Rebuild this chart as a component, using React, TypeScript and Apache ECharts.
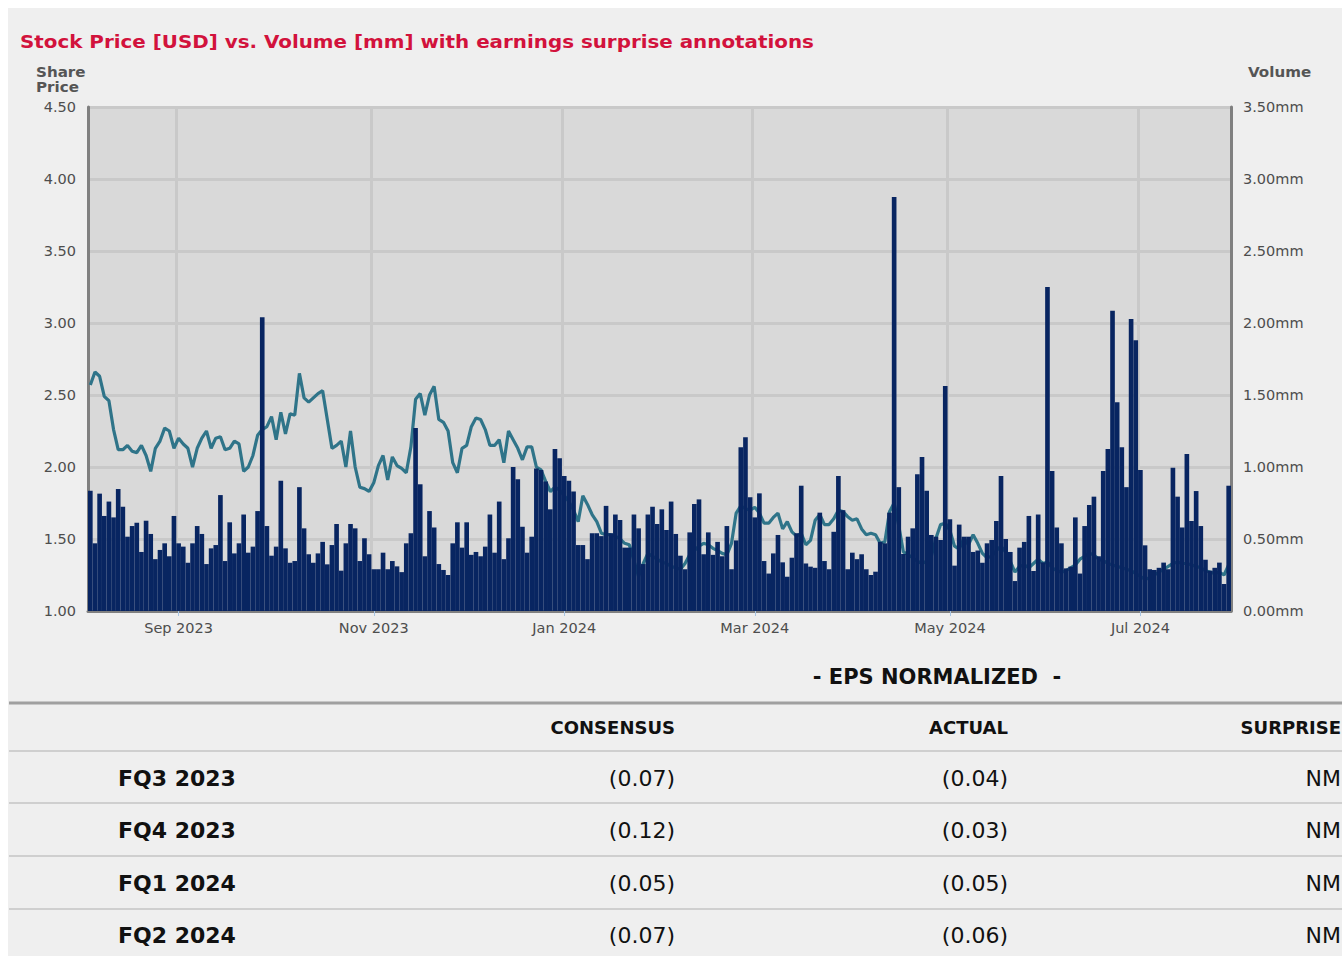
import React, { useEffect, useRef } from "react";
import * as echarts from "echarts";

// ---- categories (trading days) ----
const START_DATE = "2023-08-07";
const END_DATE = "2024-07-29";
const HOLIDAYS = [
  "2023-09-04", "2023-11-23", "2023-12-25", "2024-01-01", "2024-01-15",
  "2024-02-19", "2024-03-29", "2024-05-27", "2024-06-19", "2024-07-04",
];
const MONTHS = ["Jan", "Feb", "Mar", "Apr", "May", "Jun", "Jul", "Aug", "Sep", "Oct", "Nov", "Dec"];

// ---- series values ----
const PRICE = [
  2.57, 2.66, 2.63, 2.49, 2.46, 2.26, 2.12, 2.12, 2.15, 2.11,
  2.10, 2.15, 2.08, 1.97, 2.13, 2.18, 2.27, 2.25, 2.13, 2.20,
  2.16, 2.13, 2.00, 2.13, 2.20, 2.25, 2.13, 2.20, 2.21, 2.12,
  2.13, 2.18, 2.16, 1.97, 2.00, 2.08, 2.22, 2.26, 2.28, 2.35,
  2.19, 2.38, 2.23, 2.37, 2.36, 2.65, 2.48, 2.45, 2.48, 2.51,
  2.53, 2.33, 2.13, 2.15, 2.18, 2.00, 2.25, 2.00, 1.86, 1.85,
  1.83, 1.89, 2.01, 2.08, 1.91, 2.07, 2.01, 1.99, 1.96, 2.14,
  2.47, 2.51, 2.36, 2.50, 2.56, 2.33, 2.31, 2.25, 2.03, 1.96,
  2.13, 2.15, 2.28, 2.34, 2.33, 2.26, 2.15, 2.15, 2.19, 2.03,
  2.25, 2.19, 2.13, 2.05, 2.14, 2.14, 2.00, 1.98, 1.90, 1.83,
  1.86, 1.84, 1.80, 1.76, 1.70, 1.62, 1.80, 1.74, 1.67, 1.62,
  1.54, 1.53, 1.53, 1.52, 1.50, 1.47, 1.46, 1.35, 1.24, 1.33,
  1.40, 1.38, 1.36, 1.34, 1.33, 1.31, 1.30, 1.29, 1.33, 1.39,
  1.42, 1.45, 1.47, 1.46, 1.435, 1.42, 1.40, 1.39, 1.47, 1.68,
  1.73, 1.71, 1.70, 1.72, 1.68, 1.61, 1.61, 1.65, 1.68, 1.57,
  1.62, 1.55, 1.52, 1.54, 1.46, 1.49, 1.63, 1.67, 1.60, 1.60,
  1.64, 1.70, 1.69, 1.655, 1.63, 1.64, 1.57, 1.53, 1.54, 1.53,
  1.47, 1.48, 1.69, 1.75, 1.59, 1.41, 1.39, 1.37, 1.345, 1.33,
  1.345, 1.38, 1.505, 1.60, 1.61, 1.56, 1.45, 1.43, 1.505, 1.46,
  1.53, 1.47, 1.40, 1.37, 1.38, 1.42, 1.45, 1.41, 1.345, 1.27,
  1.31, 1.32, 1.30, 1.33, 1.36, 1.33, 1.34, 1.30, 1.28, 1.27,
  1.28, 1.30, 1.32, 1.36, 1.38, 1.40, 1.39, 1.36, 1.35, 1.33,
  1.32, 1.31, 1.30, 1.29, 1.28, 1.26, 1.24, 1.22, 1.23, 1.25,
  1.27, 1.29, 1.31, 1.33, 1.34, 1.33, 1.33, 1.32, 1.31, 1.30,
  1.28, 1.27, 1.26, 1.27, 1.25, 1.32,
];

const VOLUME = [
  0.835, 0.47, 0.815, 0.66, 0.76, 0.65, 0.847, 0.724, 0.516, 0.59,
  0.613, 0.41, 0.627, 0.535, 0.36, 0.424, 0.47, 0.38, 0.66, 0.47,
  0.447, 0.335, 0.47, 0.59, 0.535, 0.326, 0.435, 0.458, 0.805, 0.347,
  0.616, 0.40, 0.47, 0.67, 0.405, 0.447, 0.694, 2.04, 0.59, 0.384,
  0.447, 0.905, 0.435, 0.335, 0.347, 0.86, 0.574, 0.394, 0.335, 0.40,
  0.48, 0.324, 0.458, 0.604, 0.28, 0.47, 0.604, 0.574, 0.347, 0.505,
  0.394, 0.29, 0.29, 0.405, 0.29, 0.347, 0.31, 0.27, 0.47, 0.54,
  1.27, 0.88, 0.38, 0.694, 0.58, 0.326, 0.285, 0.25, 0.47, 0.616,
  0.44, 0.616, 0.39, 0.41, 0.38, 0.447, 0.67, 0.405, 0.76, 0.36,
  0.505, 1.00, 0.915, 0.585, 0.405, 0.516, 0.99, 0.98, 0.90, 0.706,
  1.125, 1.06, 0.9375, 0.905, 0.83, 0.458, 0.458, 0.36, 0.54, 0.54,
  0.52, 0.73, 0.54, 0.67, 0.632, 0.44, 0.44, 0.67, 0.574, 0.326,
  0.67, 0.724, 0.604, 0.706, 0.5625, 0.76, 0.535, 0.384, 0.29, 0.546,
  0.743, 0.775, 0.394, 0.546, 0.39, 0.48, 0.38, 0.59, 0.29, 0.49,
  1.137, 1.206, 0.79, 0.65, 0.817, 0.347, 0.26, 0.40, 0.528, 0.338,
  0.238, 0.37, 0.54, 0.87, 0.33, 0.308, 0.30, 0.683, 0.347, 0.29,
  0.55, 0.9375, 0.70, 0.29, 0.405, 0.36, 0.394, 0.29, 0.25, 0.273,
  0.48, 0.47, 0.683, 2.875, 0.86, 0.396, 0.516, 0.574, 0.95, 1.07,
  0.835, 0.528, 0.516, 0.493, 1.5625, 0.637, 0.315, 0.60, 0.516, 0.516,
  0.41, 0.42, 0.335, 0.47, 0.493, 0.625, 0.9375, 0.50, 0.41, 0.208,
  0.44, 0.48, 0.66, 0.278, 0.67, 0.338, 2.25, 0.972, 0.58, 0.47,
  0.296, 0.308, 0.65, 0.26, 0.59, 0.736, 0.794, 0.38, 0.972, 1.125,
  2.085, 1.45, 1.137, 0.86, 2.028, 1.88, 0.98, 0.456, 0.29, 0.285,
  0.30, 0.336, 0.29, 0.995, 0.794, 0.58, 1.09, 0.625, 0.833, 0.59,
  0.356, 0.28, 0.30, 0.336, 0.1875, 0.87,
];

// ---- axis ticks ----
const PRICE_AXIS = { min: 1, max: 4.5, interval: 0.5 };
const VOLUME_AXIS = { min: 0, max: 3.5, interval: 0.5 };

// ---- earnings table ----
const TABLE_HEADERS = ["CONSENSUS", "ACTUAL", "SURPRISE"];
const QUARTERS = ["FQ3 2023", "FQ4 2023", "FQ1 2024", "FQ2 2024"];
const CONSENSUS = [-0.07, -0.12, -0.05, -0.07];
const ACTUAL = [-0.04, -0.03, -0.05, -0.06];
const SURPRISE = ["NM", "NM", "NM", "NM"];

const TITLE = "Stock Price [USD] vs. Volume [mm] with earnings surprise annotations";
const FONT = "DejaVu Sans";

function tradingDays(): string[] {
  const out: string[] = [];
  const d = new Date(START_DATE + "T00:00:00Z");
  const end = new Date(END_DATE + "T00:00:00Z");
  while (d.getTime() <= end.getTime()) {
    const dow = d.getUTCDay();
    const s = d.toISOString().slice(0, 10);
    if (dow !== 0 && dow !== 6 && HOLIDAYS.indexOf(s) < 0) out.push(s);
    d.setUTCDate(d.getUTCDate() + 1);
  }
  return out;
}

const fmtEps = (v: number) => (v < 0 ? `(${Math.abs(v).toFixed(2)})` : v.toFixed(2));

export default function App() {
  const ref = useRef<HTMLDivElement>(null);

  useEffect(() => {
    if (!ref.current) return;
    document.body.style.margin = "0";
    const chart = echarts.init(ref.current, null, { renderer: "svg" });
    const dates = tradingDays();
    const monthOf = (s: string) => Number(s.slice(5, 7)) - 1;
    const isMarker = (i: number) =>
      i > 0 && monthOf(dates[i]) !== monthOf(dates[i - 1]) && monthOf(dates[i]) % 2 === 0;

    const W = 1334;
    const rowsY = [770, 822, 875, 927];
    const sepY = [795, 848, 901];
    const colRight = [667, 1000, 1333];

    const graphic: any[] = [
      {
        type: "text", x: 12, y: 34, scaleX: 1.075,
        style: { text: TITLE, fill: "#d2123c", fontSize: 18.5, fontWeight: "bold", fontFamily: FONT, align: "left", verticalAlign: "middle" },
      },
      {
        type: "text", x: 28, y: 64, scaleX: 1.12,
        style: { text: "Share", fill: "#555555", fontSize: 13.5, fontWeight: "bold", fontFamily: FONT, align: "left", verticalAlign: "middle" },
      },
      {
        type: "text", x: 28, y: 79, scaleX: 1.12,
        style: { text: "Price", fill: "#555555", fontSize: 13.5, fontWeight: "bold", fontFamily: FONT, align: "left", verticalAlign: "middle" },
      },
      {
        type: "text", x: 1240, y: 64, scaleX: 1.12,
        style: { text: "Volume", fill: "#555555", fontSize: 13.5, fontWeight: "bold", fontFamily: FONT, align: "left", verticalAlign: "middle" },
      },
      {
        type: "text", x: 929, y: 669,
        style: { text: "- EPS NORMALIZED \u00a0-", fill: "#111111", fontSize: 21, fontWeight: "bold", fontFamily: FONT, align: "center", verticalAlign: "middle" },
      },
      { type: "line", shape: { x1: 1, y1: 695, x2: W, y2: 695 }, style: { stroke: "#a0a0a0", lineWidth: 3 } },
      { type: "line", shape: { x1: 1, y1: 743, x2: W, y2: 743 }, style: { stroke: "#c4c4c4", lineWidth: 1.5 } },
    ];
    TABLE_HEADERS.forEach((h, i) => {
      graphic.push({
        type: "text", x: colRight[i], y: 719,
        style: { text: h, fill: "#111111", fontSize: 18, fontWeight: "bold", fontFamily: FONT, align: "right", verticalAlign: "middle" },
      });
    });
    sepY.forEach((y) => {
      graphic.push({ type: "line", shape: { x1: 1, y1: y, x2: W, y2: y }, style: { stroke: "#c4c4c4", lineWidth: 1.5 } });
    });
    QUARTERS.forEach((q, r) => {
      const y = rowsY[r];
      graphic.push({
        type: "text", x: 110, y,
        style: { text: q, fill: "#111111", fontSize: 22, fontWeight: "bold", fontFamily: FONT, align: "left", verticalAlign: "middle" },
      });
      const vals = [fmtEps(CONSENSUS[r]), fmtEps(ACTUAL[r]), SURPRISE[r]];
      vals.forEach((v, c) => {
        graphic.push({
          type: "text", x: colRight[c], y,
          style: { text: v, fill: "#111111", fontSize: 22, fontFamily: FONT, align: "right", verticalAlign: "middle" },
        });
      });
    });

    const option: any = {
      animation: false,
      backgroundColor: "#efefef",
      textStyle: { fontFamily: FONT },
      grid: {
        left: 80, right: 111, top: 99, bottom: 345,
        show: true, backgroundColor: "#d9d9d9", borderWidth: 0,
      },
      xAxis: {
        type: "category",
        data: dates,
        boundaryGap: true,
        axisLine: { show: true, lineStyle: { color: "#808080", width: 3 } },
        axisTick: { show: true, alignWithLabel: true, interval: (i: number) => isMarker(i), length: 5, lineStyle: { color: "#a9c6e4", width: 1 } },
        axisLabel: {
          interval: (i: number) => isMarker(i),
          formatter: (v: string) => `${MONTHS[monthOf(v)]} ${v.slice(0, 4)}`,
          color: "#4d4d4d", fontSize: 14.5, fontFamily: FONT, margin: 9,
        },
        splitLine: { show: true, interval: (i: number) => isMarker(i), lineStyle: { color: "#c9c9c9", width: 3 } },
      },
      yAxis: [
        {
          type: "value", position: "left",
          min: PRICE_AXIS.min, max: PRICE_AXIS.max, interval: PRICE_AXIS.interval,
          axisLine: { show: true, lineStyle: { color: "#808080", width: 3 } },
          axisTick: { show: false },
          axisLabel: { formatter: (v: number) => v.toFixed(2), color: "#4d4d4d", fontSize: 14.5, fontFamily: FONT, margin: 12 },
          splitLine: { show: true, lineStyle: { color: "#c9c9c9", width: 3 } },
        },
        {
          type: "value", position: "right",
          min: VOLUME_AXIS.min, max: VOLUME_AXIS.max, interval: VOLUME_AXIS.interval,
          axisLine: { show: true, lineStyle: { color: "#808080", width: 3 } },
          axisTick: { show: false },
          axisLabel: { formatter: (v: number) => `${v.toFixed(2)}mm`, color: "#4d4d4d", fontSize: 14.5, fontFamily: FONT, margin: 12 },
          splitLine: { show: false },
        },
      ],
      series: [
        {
          name: "Share Price", type: "line", yAxisIndex: 0, data: PRICE,
          symbol: "none", z: 1,
          lineStyle: { color: "#2f7489", width: 3.2 },
          itemStyle: { color: "#2f7489" },
        },
        {
          name: "Volume", type: "bar", yAxisIndex: 1, data: VOLUME,
          barCategoryGap: "0%", z: 2,
          itemStyle: { color: "#082561" },
        },
      ],
      graphic,
    };
    chart.setOption(option);
    return () => chart.dispose();
  }, []);

  return (
    <div style={{ paddingLeft: 8, paddingTop: 8, width: 1334, height: 948 }}>
      <div ref={ref} style={{ width: 1334, height: 948 }} />
    </div>
  );
}
